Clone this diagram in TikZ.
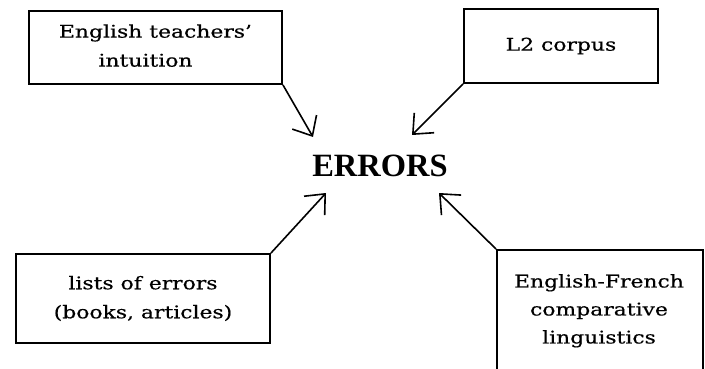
\documentclass[tikz,border=0pt]{standalone}
\usepackage{fontspec}
\setmainfont{DejaVu Serif}[FakeStretch=1.25, FakeBold=0.5]
\newfontfamily\errfont{Liberation Serif}
\usepackage{tikz}
\usetikzlibrary{arrows.meta,positioning}

\begin{document}
\begin{tikzpicture}[x=1pt, y=-1pt,
        srcbox/.style={draw, line width=1.9pt, inner sep=0pt, align=center,
            font=\fontsize{17.5}{29}\selectfont},
        srctext/.style={align=center, inner sep=0pt, font=\fontsize{17.5}{28}\selectfont},
        feed/.style={line width=1.6pt, -{Straight Barb[length=16pt, width=28pt, line width=1.6pt]}}]
        \useasboundingbox (0, 0) rectangle (705, 369);
        \clip (0, 0) rectangle (705, 369);

        \node[font=\errfont\bfseries\fontsize{32.5}{33}\selectfont, inner sep=0pt] (errors) at (380, 166) {ERRORS};

        \node[srcbox, minimum width=253, minimum height=73, text depth=4pt] (teachers) at (155.5, 47.5) {English teachers'\\intuition\hspace*{20pt}};
        \node[srcbox, minimum width=194, minimum height=74] (corpus) at (561, 46) {L2 corpus};
        \node[srcbox, minimum width=254, minimum height=89] (lists) at (143, 298.5) {lists of errors\\(books, articles)};
        \node[srcbox, minimum width=206, minimum height=170, anchor=north west] (contrast) at (496, 249) {};
        \node[srctext, anchor=north] (contrasttext) at (599, 274) {English-French\\comparative\\linguistics};

        \coordinate (tipA) at (313, 137);
        \coordinate (tipB) at (412, 135);
        \coordinate (tipC) at (326, 193);
        \coordinate (tipD) at (439, 193);

        \draw[feed] (teachers.south east) -- (tipA);
        \draw[feed] (corpus.south west) -- (tipB);
        \draw[feed] (lists.north east) -- (tipC);
        \draw[feed] (contrast.north west) -- (tipD);

    \end{tikzpicture}
\end{document}
